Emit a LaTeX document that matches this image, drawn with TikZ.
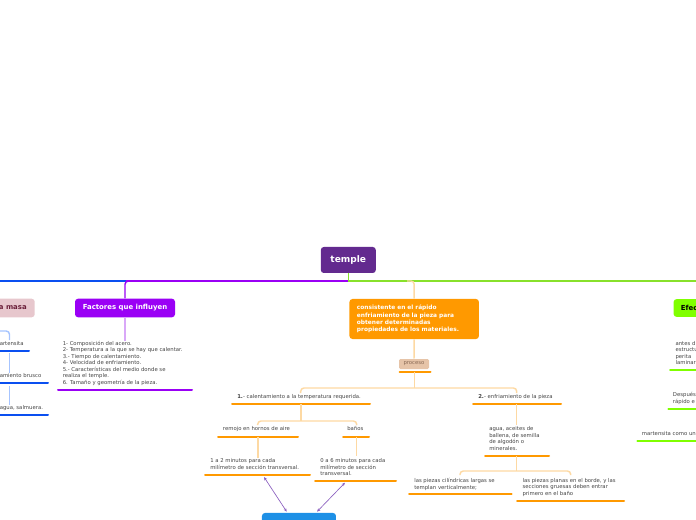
\documentclass[tikz,border=0pt]{standalone}
\usepackage{fontspec}
\setmainfont{DejaVu Sans}
\usetikzlibrary{arrows.meta}
\definecolor{mainpurple}{HTML}{632A8F}
\definecolor{violet}{HTML}{9A00F5}
\definecolor{lightviolet}{HTML}{D9A8F8}
\definecolor{orangeC}{HTML}{FF9900}
\definecolor{lightorange}{HTML}{FDD9A3}
\definecolor{tanbox}{HTML}{E6C4A8}
\definecolor{tantext}{HTML}{8A6A55}
\definecolor{pinkbox}{HTML}{E7C7CD}
\definecolor{pinktext}{HTML}{6B1F3A}
\definecolor{blueC}{HTML}{0A4FF0}
\definecolor{lightblue}{HTML}{A6C4FF}
\definecolor{greenC}{HTML}{80FF00}
\definecolor{greenline}{HTML}{88E12B}
\definecolor{txtgray}{HTML}{444444}
\definecolor{arrowpurple}{HTML}{8B5FBF}
\definecolor{bottomblue}{HTML}{1E90E6}
\begin{document}
\begin{tikzpicture}[x=0.75pt,y=-0.75pt,
  st/.style={font=\fontsize{4}{4.9}\selectfont, text=txtgray, inner sep=0pt, anchor=north west, align=left},
  boxnode/.style={rounded corners=2.25pt, inner sep=0pt, font=\bfseries},
  ul/.style={line width=1.5pt, line cap=round},
  conn/.style={line width=1.1pt, rounded corners=2.5pt},
  arr/.style={arrowpurple, line width=0.5pt, {Stealth[length=2.6pt,width=2.2pt]}-{Stealth[length=2.6pt,width=2.2pt]}}
]
\useasboundingbox (0,0) rectangle (696,520);
\clip (0,0) rectangle (696,520);

% ---- main line ----
\coordinate (mL) at (-2,281);
\coordinate (mB) at (126,281);
\coordinate (mC) at (348.3,281);
\coordinate (mR) at (698,281);
\draw[blueC, line width=1pt] (mL) -- (mB);
\draw[violet, line width=1pt] (mB) -- (mC);
\draw[greenline, line width=1pt] (mC) -- (mR);

% ---- central node ----
\node[boxnode, fill=mainpurple, text=white, font=\fontsize{6.8}{8}\selectfont\bfseries,
      minimum width=41.25pt, minimum height=19.5pt] (temple) at (348.3,260) {temple};
\draw[greenline, line width=1pt] (temple.south) -- (mC);

% ---- Factores que influyen ----
\node[boxnode, fill=violet, text=white, font=\fontsize{5.2}{6}\selectfont\bfseries,
      minimum width=75pt, minimum height=13.9pt] (fact) at (125,308) {Factores que influyen};
\coordinate (fj) at (132,281);
\draw[violet, conn] (fj) -| (fact.north);
\node[st] (facttext) at (62.5,340.8) {1- Composición del acero.\\2- Temperatura a la que se hay que calentar.\\3.- Tiempo de calentamiento.\\4- Velocidad de enfriamiento.\\5.- Características del medio donde se\\realiza el temple.\\6. Tamaño y geometría de la pieza.};
\draw[lightviolet, line width=1.1pt] (fact.south) -- (fact.south |- facttext.north);
\draw[violet, ul] (58,390) -- (192,390);

% ---- left pink branch ----
\node[boxnode, fill=pinkbox, text=pinktext, font=\fontsize{5.2}{6}\selectfont\bfseries,
      minimum height=13.9pt, inner xsep=6pt, anchor=east] (masa) at (35,308) {a masa};
\node[st] (b1) at (-0.5,340.7) {artensita};
\node[st] (b2) at (-0.5,373.4) {amiento brusco};
\node[st] (b3) at (-0.5,405.4) {agua, salmuera.};
\draw[blueC, ul] (-2,351) -- (29,351);
\draw[blueC, ul] (-2,383) -- (48,383);
\draw[blueC, ul] (-2,415) -- (48,415);
\coordinate (bl0) at (-2,331);
\coordinate (bl1) at (9.5,340);
\coordinate (bl2) at (9.5,353);
\coordinate (bl3) at (9.5,373);
\coordinate (bl4) at (9.5,386);
\coordinate (bl5) at (9.5,405);
\draw[lightblue, conn] (bl0) -| (bl1);
\draw[lightblue, line width=1.1pt] (bl2) -- (bl3);
\draw[lightblue, line width=1.1pt] (bl4) -- (bl5);

% ---- orange branch ----
\node[boxnode, fill=orangeC, text=white, font=\fontsize{4.4}{5.5}\selectfont\bfseries,
      minimum width=97.1pt, minimum height=30pt, text width=85.9pt, inner xsep=5.6pt, align=left]
      (cons) at (414.2,319) {consistente en el rápido\\enfriamiento de la pieza para\\obtener determinadas\\propiedades de los materiales.};
\coordinate (oj) at (407,281);
\draw[lightorange, conn] (oj) -| (cons.north);

\node[rounded corners=1pt, fill=tanbox, text=tantext, inner sep=0pt, font=\fontsize{4}{5}\selectfont,
      minimum width=22.5pt, minimum height=7.5pt] (proc) at (414,364) {proceso};
\draw[lightorange, line width=1.1pt] (cons.south) -- (proc.north);
\draw[orangeC, ul] (399.5,372) -- (430.5,372);

\coordinate (pj) at (414.5,372);
\coordinate (pbar) at (414.5,388);
\coordinate (pl) at (300.7,393);
\coordinate (pr) at (516.7,393);
\draw[lightorange, line width=1.1pt] (pj) -- (pbar);
\draw[lightorange, conn] (pl) |- (pbar) -| (pr);

% step 1
\node[st] (s1) at (237,394.1) {\textbf{1.}- calentamiento a la temperatura requerida.};
\draw[orangeC, ul] (232,404) -- (370,404);
\coordinate (s1a) at (301,404);
\coordinate (s1b) at (301,421);
\coordinate (s1l) at (257.7,425);
\coordinate (s1r) at (356.7,425);
\draw[lightorange, line width=1.1pt] (s1a) -- (s1b);
\draw[lightorange, conn] (s1l) |- (s1b) -| (s1r);

\node[st] (rem) at (222.7,426.4) {remojo en hornos de aire};
\draw[orangeC, ul] (218,436.7) -- (298,436.7);
\node[st] (ban) at (347,426.4) {baños};
\draw[orangeC, ul] (343,436.7) -- (369,436.7);

\coordinate (r1) at (258,437);
\coordinate (r2) at (258,457.5);
\draw[lightorange, line width=1.1pt] (r1) -- (r2);
\coordinate (b1a) at (356.3,437);
\coordinate (b1b) at (356.3,456);
\draw[lightorange, line width=1.1pt] (b1a) -- (b1b);

\node[st] (m1) at (210,458.4) {1 a 2 minutos para cada\\milímetro de sección transversal.};
\draw[orangeC, ul] (205,475) -- (310,475);
\node[st] (m2) at (320,458.4) {0 a 6 minutos para cada\\milímetro de sección\\transversal.};
\draw[orangeC, ul] (315,481.3) -- (396,481.3);

% bottom node
\node[fill=bottomblue, text=white, rounded corners=2.25pt, font=\fontsize{3.4}{4.2}\selectfont\bfseries,
      minimum width=55.5pt, minimum height=16pt, text width=37pt, inner xsep=9.25pt, inner ysep=2.6pt, align=left, anchor=north west]
      (enf) at (261.7,512.7) {Se debe enfriar a};
\coordinate (a1s) at (264,477);
\coordinate (a1e) at (286.7,511.7);
\coordinate (a2s) at (345,482.7);
\coordinate (a2e) at (317,511.7);
\draw[arr] (a1s) -- (a1e);
\draw[arr] (a2s) -- (a2e);

% step 2
\node[st] (s2) at (478,394.1) {\textbf{2.}- enfriamiento de la pieza};
\draw[orangeC, ul] (473,404) -- (561,404);
\coordinate (s2a) at (516.7,404);
\coordinate (s2b) at (516.7,425);
\draw[lightorange, line width=1.1pt] (s2a) -- (s2b);
\node[st] (ag) at (489,426.4) {agua, aceites de\\ballena, de semilla\\de algodón o\\minerales.};
\draw[orangeC, ul] (485,456) -- (549,456);
\coordinate (ag1) at (516.7,456);
\coordinate (ag2) at (516.7,471);
\coordinate (agl) at (460,475);
\coordinate (agr) at (570.7,475);
\draw[lightorange, line width=1.1pt] (ag1) -- (ag2);
\draw[lightorange, conn] (agl) |- (ag2) -| (agr);

\node[st] (c1) at (414,478.1) {las piezas cilíndricas largas se\\templan verticalmente;};
\draw[orangeC, ul] (409,494.3) -- (511.7,494.3);
\node[st] (c2) at (522.3,478.1) {las piezas planas en el borde, y las\\secciones gruesas deben entrar\\primero en el baño};
\draw[orangeC, ul] (517,500.7) -- (624,500.7);

% ---- right green branch ----
\node[boxnode, fill=greenC, text=black, font=\fontsize{5.2}{6}\selectfont\bfseries,
      minimum height=13.3pt, inner xsep=5.5pt, anchor=west] (efec) at (673.3,308) {Efectos};
\node[st] (g1) at (675.3,340.7) {antes d\\estructu\\perita\\laminar};
\draw[greenC, ul] (670,370) -- (700,370);
\node[st] (g2) at (672.7,392.4) {Después\\rápido e};
\draw[greenC, ul] (668.3,408.7) -- (700,408.7);
\node[st] (g3) at (641.7,431.4) {martensita como un};
\draw[greenC, ul] (637.3,440.7) -- (700,440.7);
\end{tikzpicture}
\end{document}
